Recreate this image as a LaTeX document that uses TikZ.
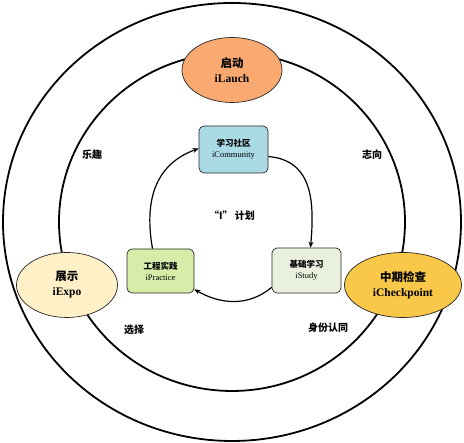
\documentclass[tikz,border=0pt]{standalone}
\usepackage{fontspec}
\setmainfont{Liberation Serif}
\newfontfamily\cjk{Noto Sans CJK SC}
\usetikzlibrary{arrows.meta,shapes.geometric}
\definecolor{launchc}{RGB}{250,170,112}
\definecolor{checkc}{RGB}{250,200,72}
\definecolor{expoc}{RGB}{255,240,200}
\definecolor{commc}{RGB}{170,218,230}
\definecolor{pracc}{RGB}{214,237,170}
\definecolor{studc}{RGB}{234,240,222}
\begin{document}
\begin{tikzpicture}[x=1pt,y=1pt,
  ring/.style={line width=1.8pt},
  ell/.style={ellipse, draw=black!85, line width=0.7pt, inner sep=0pt, align=center,
    minimum height=65pt, font=\fontsize{11.5}{15}\selectfont\bfseries},
  bx/.style={rectangle, rounded corners=5pt, draw=black!85, line width=0.7pt, align=center,
    inner sep=0pt, font=\fontsize{8.5}{11}\selectfont},
  lab/.style={font=\cjk\bfseries\fontsize{10}{12}\selectfont},
  flow/.style={line width=1.2pt, -{Stealth[length=6pt,width=5pt]}}]
\useasboundingbox (0,0) rectangle (464,443);
\coordinate (o) at (232,221);
\draw[ring] (o) ellipse [x radius=229pt, y radius=219pt];
\draw[ring] (o) ellipse [x radius=173pt, y radius=169pt];

\node[ell, fill=launchc, minimum width=100pt] (launch) at (232,373) {{\cjk 启动}\\iLauch};
\node[ell, fill=expoc, minimum width=101pt] (expo) at (67,158) {{\cjk 展示}\\iExpo};
\node[ell, fill=checkc, minimum width=117pt] (check) at (403,158) {{\cjk 中期检查}\\iCheckpoint};

\node[bx, fill=commc, minimum width=69pt, minimum height=47pt] (comm) at (233.5,293.5) {{\cjk\bfseries 学习社区}\\iCommunity};
\node[bx, fill=pracc, minimum width=67pt, minimum height=44pt] (prac) at (160.5,172) {{\cjk\bfseries 工程实践}\\iPractice};
\node[bx, fill=studc, minimum width=69pt, minimum height=45pt] (stud) at (306.5,172.5) {{\cjk\bfseries 基础学习}\\iStudy};

\draw[flow] ([xshift=-8pt]prac.north) to[out=100,in=200,looseness=1.1] ([yshift=1pt]comm.west);
\draw[flow] ([yshift=-7pt]comm.east) to[out=-5,in=85,looseness=1.15] ([xshift=4pt]stud.north);
\draw[flow] ([yshift=6pt]stud.south west) to[out=-140,in=-30] ([yshift=4pt]prac.south east);

\node[lab] (t1) at (92,288) {乐趣};
\node[lab] (t2) at (372,288) {志向};
\node[lab] (t3) at (134,113) {选择};
\node[lab] (t4) at (328,115) {身份认同};
\node[lab] (t5) at (232,227) {“I” 计划};
\end{tikzpicture}
\end{document}
